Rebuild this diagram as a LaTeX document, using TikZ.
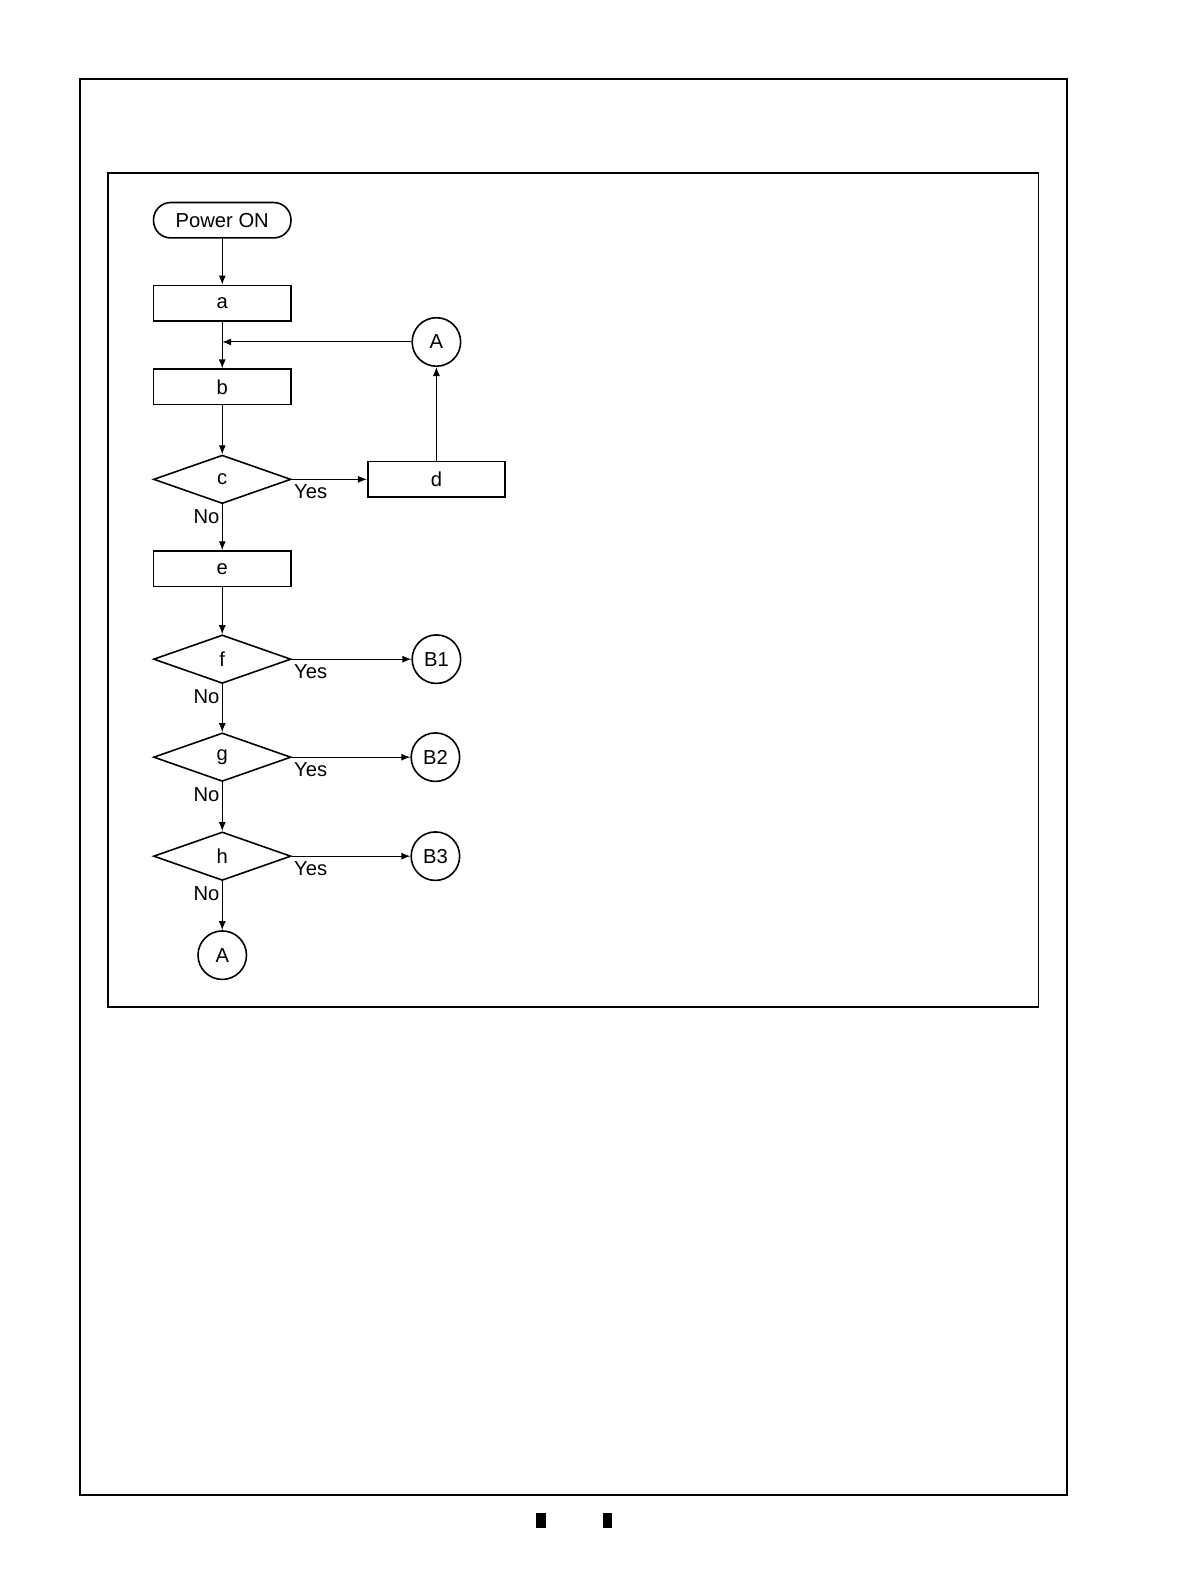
\documentclass[tikz,border=0pt]{standalone}
\usepackage{fontspec}
\setmainfont{Liberation Sans}
\usepackage{tikz}
\usetikzlibrary{positioning}
\usetikzlibrary{arrows.meta,shapes.geometric}

\begin{document}
\begin{tikzpicture}[x=0.5051pt,y=-0.5051pt,>={Latex[length=4.5pt,width=3.5pt]},line width=0.5pt,
    font=\fontsize{10.1}{12}\selectfont,
    process/.style={draw,line width=0.8pt,minimum width=68.7pt,minimum height=17.7pt,inner sep=0pt},
    terminal/.style={process,rounded corners=8.6pt},
    decision/.style={draw,diamond,line width=0.8pt,minimum width=68.7pt,minimum height=24.25pt,inner sep=0pt},
    connector/.style={draw,circle,line width=0.8pt,minimum size=24.25pt,inner sep=0pt},
    yes/.style={inner sep=1pt,pos=0,anchor=north west,yshift=-1.5pt},
    no/.style={inner sep=1.2pt,pos=0,anchor=north east,yshift=-1pt}]
      \useasboundingbox (0,0) rectangle (1178,1568);
      % frames
      \draw[line width=1pt] (79,78) rectangle (1056,1480);
      \draw[line width=0.8pt] (107,171) rectangle (1028,997);
      \fill (531,1498) rectangle (540,1513);
      \fill (597,1498) rectangle (606,1513);
      % main column
      \node[terminal] (P) at (220,218) {Power ON};
      \node[process] (a) [below of=P, node distance=41.42pt] {a};
      \node[process] (b) [below of=a, node distance=41.92pt] {b};
      \node[decision] (c) [below of=b, node distance=46.22pt] {c};
      \node[process] (e) [below of=c, node distance=44.7pt] {e};
      \node[decision] (f) [below of=e, node distance=45.21pt] {f};
      \node[decision] (g) [below of=f, node distance=49pt] {g};
      \node[decision] (h) [below of=g, node distance=49.5pt] {h};
      \node[connector] (A2) [below of=h, node distance=49.5pt] {A};
      % side branches
      \node[process] (d) [right of=c, node distance=107.08pt] {d};
      \node[connector] (A1) [above of=d, node distance=68.69pt] {A};
      \node[connector] (B1) [right of=f, node distance=107.08pt] {B1};
      \node[connector] (B2) [right of=g, node distance=106.58pt] {B2};
      \node[connector] (B3) [right of=h, node distance=106.58pt] {B3};
      \coordinate (j) at (a.south |- A1);

      \draw[->] (P) -- (a);
      \draw[->] (a) -- (b);
      \draw[->] (b) -- (c);
      \draw[->] (A1) -- (j);
      \draw[->] (d) -- (A1);
      \draw[->] (c.east) -- node[yes] {Yes} (d);
      \draw[->] (c.south) -- node[no] {No} (e);
      \draw[->] (e) -- (f);
      \draw[->] (f.east) -- node[yes] {Yes} (B1);
      \draw[->] (f.south) -- node[no] {No} (g);
      \draw[->] (g.east) -- node[yes] {Yes} (B2);
      \draw[->] (g.south) -- node[no] {No} (h);
      \draw[->] (h.east) -- node[yes] {Yes} (B3);
      \draw[->] (h.south) -- node[no] {No} (A2);
\end{tikzpicture}
\end{document}
